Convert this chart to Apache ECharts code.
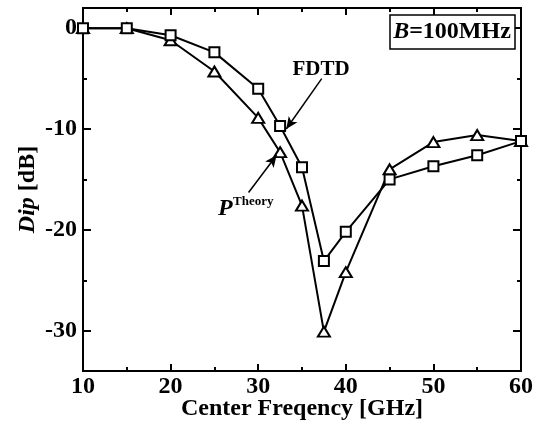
<!DOCTYPE html>
<html>
<head>
<meta charset="utf-8">
<script src="https://cdn.jsdelivr.net/npm/echarts@6/dist/echarts.min.js"></script>
<style>
  html, body { margin: 0; padding: 0; background: #fff; }
  #chart { width: 549px; height: 427px; }
</style>
</head>
<body>
<div id="chart"></div>
<script>
const freq = [10, 15, 20, 25, 30, 32.5, 35, 37.5, 40, 45, 50, 55, 60]
const fdtd = [0, 0, -0.7, -2.4, -6.0, -9.7, -13.8, -23.1, -20.2, -15.0, -13.7, -12.6, -11.2]
const theory = [0, 0, -1.2, -4.3, -8.9, -12.3, -17.6, -30.1, -24.2, -14.0, -11.3, -10.6, -11.2]
const yMajor = [-30, -20, -10, 0]
const yMinor = [-25, -15, -5]

// annotation arrows, in data units
const fdtdArrow = [[37.25, -5.0], [33.2, -10.0]]
const theoryArrow = [[28.9, -16.3], [32.1, -12.6]]

const font = 'Liberation Serif'
const ink = '#000'

var myChart = echarts.init(document.getElementById('chart'))

const xAxisBase = {
  type: 'value',
  min: 10,
  max: 60,
  interval: 10,
  splitLine: { show: false },
  axisLine: { show: true, onZero: false, lineStyle: { color: ink, width: 2 } },
  axisTick: { inside: true, length: 7, lineStyle: { color: ink, width: 2 } },
  minorTick: { show: true, splitNumber: 2, length: 4, lineStyle: { color: ink, width: 2 } },
}

function yAxisOf(pos, values, len, withLabel) {
  return {
    type: 'value',
    position: pos,
    min: -34,
    max: 2,
    splitLine: { show: false },
    axisLine: { show: true, onZero: false, lineStyle: { color: ink, width: 2 } },
    axisTick: { inside: true, length: len, customValues: values, lineStyle: { color: ink, width: 2 } },
    axisLabel: withLabel ? {
      customValues: values, margin: 6,
      color: ink, fontFamily: font, fontWeight: 'bold', fontSize: 24
    } : { show: false },
  }
}

function pairs(ys) {
  return freq.map((x, i) => [x, ys[i]])
}

function arrow(a) {
  return {
    silent: true,
    symbol: ['none', 'arrow'],
    symbolSize: [8, 12],
    label: { show: false },
    lineStyle: { color: ink, width: 1.5, type: 'solid' },
    data: [[{ coord: a[0] }, { coord: a[1] }]]
  }
}

var option = {
  animation: false,
  backgroundColor: '#fff',
  grid: { left: 83, right: 28, top: 8, bottom: 56, containLabel: false, outerBoundsMode: 'none' },
  xAxis: [
    Object.assign({}, xAxisBase, {
      position: 'bottom',
      name: 'Center Freqency [GHz]',
      nameLocation: 'middle',
      nameGap: 26,
      nameMoveOverlap: false,
      nameTextStyle: { color: ink, fontFamily: font, fontWeight: 'bold', fontSize: 24 },
      axisLabel: { margin: 4, color: ink, fontFamily: font, fontWeight: 'bold', fontSize: 24 },
    }),
    Object.assign({}, xAxisBase, { position: 'top', axisLabel: { show: false } }),
  ],
  yAxis: [
    Object.assign(yAxisOf('left', yMajor, 8, true), {
      name: '{i|Dip} [dB]',
      nameLocation: 'middle',
      nameGap: 43,
      nameMoveOverlap: false,
      nameTextStyle: {
        color: ink, fontFamily: font, fontWeight: 'bold', fontSize: 24,
        rich: { i: { fontFamily: font, fontWeight: 'bold', fontStyle: 'italic', fontSize: 24, color: ink } }
      },
    }),
    yAxisOf('left', yMinor, 4, false),
    yAxisOf('right', yMajor, 8, false),
    yAxisOf('right', yMinor, 4, false),
  ],
  series: [
    {
      name: 'P Theory',
      type: 'line',
      data: pairs(theory),
      symbol: 'triangle',
      symbolSize: [12, 10],
      lineStyle: { color: ink, width: 2 },
      itemStyle: { color: '#fff', borderColor: ink, borderWidth: 2 },
      markLine: arrow(theoryArrow),
      z: 3
    },
    {
      name: 'FDTD',
      type: 'line',
      data: pairs(fdtd),
      symbol: 'rect',
      symbolSize: 10,
      lineStyle: { color: ink, width: 2 },
      itemStyle: { color: '#fff', borderColor: ink, borderWidth: 2 },
      markLine: arrow(fdtdArrow),
      z: 4
    }
  ],
  graphic: [
    {
      type: 'rect',
      shape: { x: 390, y: 15, width: 125, height: 34 },
      style: { fill: '#fff', stroke: ink, lineWidth: 1.5 },
      z: 10
    },
    {
      type: 'text',
      x: 452, y: 32,
      style: {
        text: '{i|B}{n|=100MHz}',
        align: 'center', verticalAlign: 'middle',
        rich: {
          i: { fontFamily: font, fontWeight: 'bold', fontStyle: 'italic', fontSize: 24, fill: ink },
          n: { fontFamily: font, fontWeight: 'bold', fontSize: 24, fill: ink }
        }
      },
      z: 11
    },
    {
      type: 'text',
      x: 321, y: 70,
      style: {
        text: 'FDTD', align: 'center', verticalAlign: 'middle',
        font: 'bold 21px "Liberation Serif"', fill: ink
      }
    },
    {
      type: 'text',
      x: 218, y: 209,
      style: {
        text: 'P', align: 'left', verticalAlign: 'middle',
        font: 'italic bold 24px "Liberation Serif"', fill: ink
      }
    },
    {
      type: 'text',
      x: 233, y: 202,
      style: {
        text: 'Theory', align: 'left', verticalAlign: 'middle',
        font: 'bold 13px "Liberation Serif"', fill: ink
      }
    }
  ]
}

option && myChart.setOption(option)
</script>
</body>
</html>
